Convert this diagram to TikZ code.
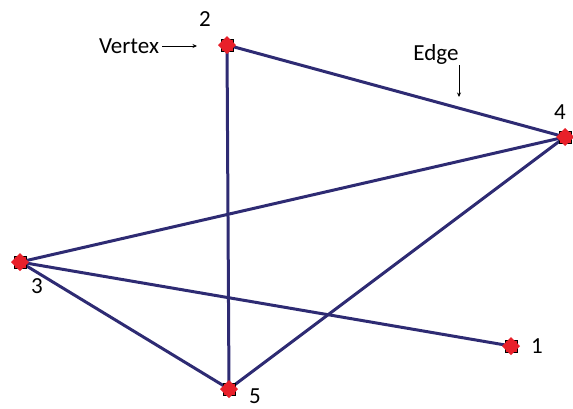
\documentclass[tikz,border=0pt]{standalone}
\usepackage{fontspec}
\setmainfont{Carlito}
\usepackage{tikz}
\usetikzlibrary{calc,arrows.meta}
\definecolor{edgeblue}{HTML}{2E2B73}
\definecolor{vred}{HTML}{E8202A}
\tikzset{
  edg/.style={edgeblue,line width=3pt},
  ptr/.style={-{Stealth[length=4.5pt,width=4pt]},black,line width=0.8pt},
  lbl/.style={font=\fontsize{23}{27}\selectfont,inner sep=0pt}
}

\begin{document}
\begin{tikzpicture}[x=1pt,y=-1pt]
\useasboundingbox (0,0) rectangle (573,408);
% vertices
\coordinate (v1) at (511,346);
\coordinate (v2) at (227,45);
\coordinate (v3) at (20,262);
\coordinate (v4) at (565,137);
\coordinate (v5) at (229,389);
% edges
\draw[edg] (v2)--(v4);
\draw[edg] (v2)--(v5);
\draw[edg] (v3)--(v4);
\draw[edg] (v3)--(v1);
\draw[edg] (v3)--(v5);
\draw[edg] (v5)--(v4);
% markers
\foreach \v in {v1,v2,v3,v4,v5}{
  \fill[black] ($(\v)+(-6.5,-6.5)$) rectangle ($(\v)+(6.5,6.5)$);
  \fill[vred] ($(\v)+(-5.5,-5.5)$) rectangle ($(\v)+(5.5,5.5)$);
  \fill[vred] ($(\v)+(-9,0)$)--($(\v)+(0,-9)$)--($(\v)+(9,0)$)--($(\v)+(0,9)$)--cycle;
}
% labels
\node[lbl] (n2) at (205,19) {2};
\node[lbl] (n4) at (560,112) {4};
\node[lbl] (n3) at (37,286) {3};
\node[lbl] (n1) at (537,346) {1};
\node[lbl] (n5) at (255,396) {5};
\node[lbl] (vt) at (129,46) {Vertex};
\node[lbl] (ed) at (436,54) {Edge};
\coordinate (va) at (197,46);
\coordinate (ea) at (459,97);
\draw[ptr] (vt.east)++(3,0)--(va);
\draw[ptr] (459,65)--(ea);
\end{tikzpicture}
\end{document}
